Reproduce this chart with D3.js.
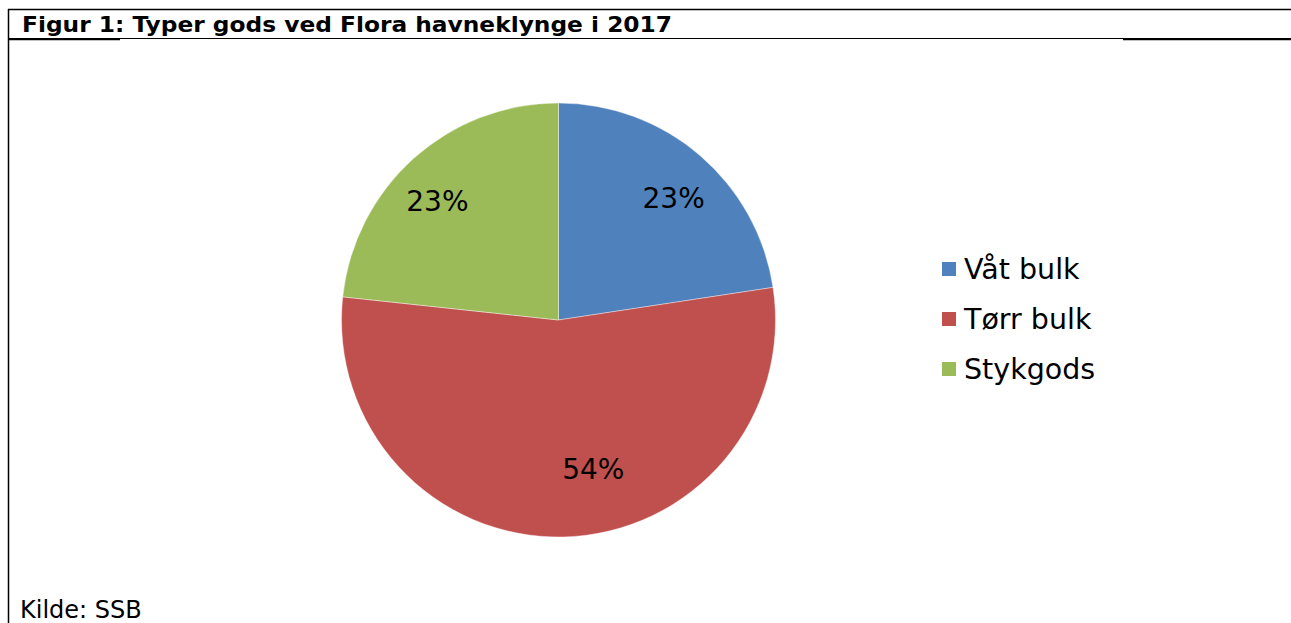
<!DOCTYPE html>
<html>
<head>
<meta charset="utf-8">
<script src="https://cdn.jsdelivr.net/npm/d3@7"></script>
<style>
  html, body { margin: 0; padding: 0; background: #fff; }
  svg { display: block; }
</style>
</head>
<body>
<div id="chart"></div>
<script>
// Andel av godsmengde per type (les av figuren)
const categories = ['Våt bulk', 'Tørr bulk', 'Stykgods'];
const shares = [22.6, 54.1, 23.3];
const colors = ['#4F81BD', '#C0504D', '#9BBB59'];
const titleText = 'Figur 1: Typer gods ved Flora havneklynge i 2017';
const sourceText = 'Kilde: SSB';

const W = 1291, H = 623;
const font = '"DejaVu Sans", Verdana, sans-serif';

const svg = d3.select('#chart').append('svg')
  .attr('width', W)
  .attr('height', H);

// frame lines
svg.append('line').attr('x1', 8).attr('x2', W).attr('y1', 9.5).attr('y2', 9.5)
  .attr('stroke', '#000').attr('stroke-width', 1.5);
svg.append('line').attr('x1', 8.5).attr('x2', 8.5).attr('y1', 9).attr('y2', H)
  .attr('stroke', '#000').attr('stroke-width', 1.5);
svg.append('line').attr('x1', 8).attr('x2', W).attr('y1', 38.5).attr('y2', 38.5)
  .attr('stroke', '#000').attr('stroke-width', 1.2);
svg.append('line').attr('x1', 8).attr('x2', 120).attr('y1', 39.3).attr('y2', 39.3)
  .attr('stroke', '#000').attr('stroke-width', 1.8);
svg.append('line').attr('x1', 1123).attr('x2', W).attr('y1', 39.3).attr('y2', 39.3)
  .attr('stroke', '#000').attr('stroke-width', 2);

// title, squeezed to the width in the original
svg.append('text')
  .attr('x', 22)
  .attr('y', 31.5)
  .attr('font-family', font)
  .attr('font-weight', 'bold')
  .attr('font-size', '21.5px')
  .attr('textLength', 650)
  .attr('lengthAdjust', 'spacingAndGlyphs')
  .attr('fill', '#000')
  .text(titleText);

svg.append('text')
  .attr('x', 20)
  .attr('y', 618)
  .attr('font-family', font)
  .attr('font-size', '24px')
  .attr('fill', '#000')
  .text(sourceText);

// pie
const cx = 558.5, cy = 320, radius = 217;
const data = categories.map((c, i) => ({ name: c, value: shares[i], color: colors[i] }));

const pie = d3.pie().value(d => d.value).sort(null);
const arc = d3.arc().innerRadius(0).outerRadius(radius);
const arcs = pie(data);

const g = svg.append('g').attr('transform', `translate(${cx},${cy})`);

g.selectAll('path.slice')
  .data(arcs)
  .enter()
  .append('path')
  .attr('class', 'slice')
  .attr('d', arc)
  .attr('fill', d => d.data.color)
  .attr('stroke', '#fff')
  .attr('stroke-width', 0.4);

// label placement similar to Excel's best fit
const labelRadius = [168, 153, 170];
const labelAngleShift = [2.6, -11.9, -3.5];
const total = d3.sum(shares);

g.selectAll('text.pct')
  .data(arcs)
  .enter()
  .append('text')
  .attr('class', 'pct')
  .attr('x', (d, i) => {
    const a = (d.startAngle + d.endAngle) / 2 + labelAngleShift[i] * Math.PI / 180;
    return labelRadius[i] * Math.sin(a);
  })
  .attr('y', (d, i) => {
    const a = (d.startAngle + d.endAngle) / 2 + labelAngleShift[i] * Math.PI / 180;
    return -labelRadius[i] * Math.cos(a);
  })
  .attr('dy', '0.36em')
  .attr('text-anchor', 'middle')
  .attr('font-family', font)
  .attr('font-size', '28px')
  .attr('fill', '#000')
  .text(d => Math.round(d.value / total * 100) + '%');

// legend
const legendY = d3.scaleBand().domain(categories).range([244, 394]);
const legend = svg.append('g').attr('transform', 'translate(942,0)');

const items = legend.selectAll('g.item')
  .data(data)
  .enter()
  .append('g')
  .attr('class', 'item')
  .attr('transform', d => `translate(0,${legendY(d.name) + legendY.bandwidth() / 2})`);

items.append('rect')
  .attr('x', 0)
  .attr('y', -7)
  .attr('width', 14)
  .attr('height', 14)
  .attr('fill', d => d.color);

items.append('text')
  .attr('x', 22)
  .attr('y', 10)
  .attr('font-family', font)
  .attr('font-size', '28.5px')
  .attr('fill', '#000')
  .text(d => d.name);
</script>
</body>
</html>
